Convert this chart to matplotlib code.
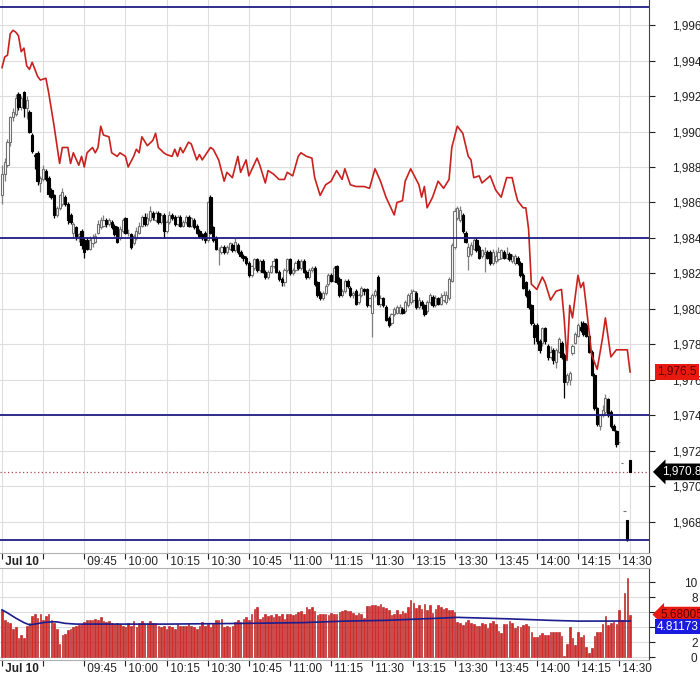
import numpy as np
import matplotlib
matplotlib.use("Agg")
import matplotlib.pyplot as plt
from matplotlib.ticker import FuncFormatter

plt.rcParams['font.family'] = ['Liberation Sans', 'DejaVu Sans']
plt.rcParams['font.size'] = 8.5

# 1-minute bars, Jul 10 session (09:15-11:30, 13:00-14:30)
opens = [
    1986.4, 1987.6, 1988.1, 1989.4, 1990.8, 1991.0, 1992.1, 1991.4, 1992.2, 1991.3,
    1991.1, 1989.8, 1988.7, 1988.8, 1987.1, 1987.3, 1987.8, 1987.4, 1986.7, 1986.4,
    1985.3, 1985.7, 1985.9, 1986.3, 1985.9, 1985.3, 1984.3, 1984.6, 1984.1, 1984.4,
    1983.9, 1983.9, 1983.4, 1983.7, 1983.8, 1984.3, 1984.6, 1984.7, 1985.0, 1984.8,
    1984.9, 1984.7, 1984.6, 1984.0, 1984.4, 1985.1, 1984.3, 1984.2, 1983.7, 1984.0,
    1984.3, 1984.7, 1985.2, 1984.8, 1985.0, 1985.4, 1985.0, 1985.4, 1984.9, 1985.3,
    1984.4, 1984.9, 1985.3, 1985.2, 1984.8, 1985.2, 1984.7, 1984.9, 1985.2, 1984.7,
    1985.0, 1984.7, 1984.4, 1984.2, 1984.3, 1983.9, 1986.3, 1984.6, 1984.0, 1983.3,
    1983.2, 1983.5, 1983.2, 1983.4, 1983.6, 1983.3, 1983.6, 1983.2, 1983.0, 1982.9,
    1982.6, 1981.9, 1982.3, 1982.8, 1982.2, 1982.7, 1982.1, 1981.8, 1982.1, 1982.4,
    1982.8, 1982.1, 1981.7, 1981.5, 1982.2, 1982.8, 1982.0, 1982.2, 1982.7, 1982.3,
    1982.7, 1982.1, 1981.8, 1982.2, 1982.3, 1981.5, 1980.9, 1980.6, 1980.9, 1981.4,
    1981.9, 1981.6, 1982.4, 1981.7, 1980.8, 1981.0, 1981.6, 1981.2, 1980.8, 1981.0,
    1980.4, 1980.8, 1981.1, 1981.1, 1980.2, 1979.8, 1980.8, 1981.8, 1980.3, 1980.6,
    1980.1, 1979.5, 1979.2, 1979.7, 1979.8, 1979.8, 1980.0, 1979.9, 1980.2, 1980.4,
    1980.5, 1980.9, 1980.1, 1980.4, 1980.2, 1979.9, 1980.4, 1980.7, 1980.2, 1980.6,
    1980.3, 1980.5, 1980.4, 1980.6, 1981.6, 1983.5, 1985.1, 1985.0, 1985.3, 1984.3,
    1983.0, 1983.1, 1983.4, 1983.9, 1983.5, 1983.0, 1983.1, 1983.2, 1983.2, 1982.6,
    1982.7, 1982.8, 1982.9, 1983.2, 1982.9, 1983.1, 1982.7, 1982.6, 1982.9, 1982.6,
    1981.9, 1981.5, 1981.0, 1980.2, 1979.1, 1979.1, 1978.2, 1978.1, 1978.9, 1977.9,
    1977.3, 1977.7, 1977.0, 1977.6, 1978.1, 1977.4, 1975.9, 1976.0, 1977.5, 1978.1,
    1978.5, 1979.0, 1979.2, 1979.1, 1978.5, 1977.6, 1976.3, 1974.4, 1973.4, 1974.0,
    1974.2, 1974.9, 1974.2, 1973.4, 1973.1, 1972.5, 1971.3, 1968.6, 1968.1, 1971.5,
]
closes = [
    1987.6, 1988.3, 1989.4, 1990.8, 1991.1, 1991.9, 1991.4, 1991.9, 1991.3, 1991.8,
    1990.0, 1988.9, 1988.6, 1987.2, 1987.4, 1987.9, 1987.3, 1986.5, 1986.3, 1985.3,
    1985.7, 1986.4, 1986.6, 1985.9, 1985.0, 1984.9, 1984.8, 1984.1, 1984.2, 1983.6,
    1983.2, 1983.4, 1983.9, 1984.0, 1984.1, 1984.8, 1985.0, 1985.0, 1984.8, 1985.0,
    1984.6, 1984.2, 1983.8, 1984.5, 1985.0, 1984.3, 1984.3, 1983.5, 1984.1, 1984.4,
    1984.7, 1985.2, 1984.8, 1985.1, 1985.5, 1985.2, 1985.4, 1984.9, 1985.3, 1984.4,
    1984.9, 1985.3, 1985.1, 1984.8, 1985.2, 1984.7, 1984.9, 1985.2, 1984.7, 1985.1,
    1984.6, 1984.3, 1984.1, 1984.0, 1983.9, 1986.0, 1984.3, 1983.9, 1983.4, 1983.3,
    1983.5, 1983.2, 1983.5, 1983.7, 1983.3, 1983.8, 1983.2, 1983.0, 1982.9, 1982.6,
    1981.9, 1982.4, 1982.8, 1982.2, 1982.7, 1982.1, 1981.8, 1982.1, 1982.4, 1982.7,
    1982.1, 1981.7, 1981.5, 1982.2, 1982.8, 1982.0, 1982.2, 1982.6, 1982.3, 1982.7,
    1982.1, 1981.8, 1982.2, 1982.3, 1981.4, 1980.8, 1980.6, 1980.9, 1981.3, 1981.9,
    1981.6, 1982.3, 1981.5, 1980.8, 1981.0, 1981.6, 1981.3, 1980.8, 1980.9, 1980.3,
    1980.8, 1981.2, 1981.0, 1980.2, 1980.6, 1980.8, 1981.0, 1980.3, 1980.6, 1980.2,
    1979.4, 1979.1, 1979.7, 1980.0, 1980.1, 1980.1, 1979.8, 1980.4, 1980.8, 1980.9,
    1981.0, 1980.1, 1980.5, 1980.2, 1979.7, 1980.4, 1980.8, 1980.2, 1980.6, 1980.3,
    1980.7, 1980.8, 1980.8, 1981.7, 1983.6, 1985.5, 1985.7, 1985.6, 1984.4, 1983.8,
    1983.5, 1983.6, 1983.9, 1983.3, 1982.9, 1983.3, 1983.2, 1982.9, 1982.6, 1983.2,
    1983.0, 1983.2, 1983.3, 1982.9, 1983.1, 1982.8, 1983.0, 1983.0, 1982.6, 1981.9,
    1981.2, 1980.8, 1980.1, 1979.2, 1978.4, 1978.2, 1977.7, 1978.9, 1978.2, 1977.3,
    1977.6, 1977.1, 1977.7, 1978.3, 1977.3, 1975.9, 1976.3, 1976.4, 1977.9, 1978.6,
    1979.1, 1978.8, 1978.6, 1978.5, 1977.6, 1976.3, 1974.4, 1973.5, 1974.0, 1974.3,
    1975.0, 1974.0, 1973.4, 1973.2, 1972.4, 1972.5, 1971.3, 1968.6, 1967.0, 1970.82,
]
highs = [
    1988.1, 1988.5, 1989.6, 1990.9, 1991.3, 1992.1, 1992.2, 1992.0, 1992.3, 1992.0,
    1991.2, 1989.9, 1988.8, 1988.9, 1987.5, 1988.1, 1987.9, 1987.5, 1986.8, 1986.5,
    1985.8, 1986.5, 1986.8, 1986.4, 1986.0, 1985.4, 1984.9, 1984.7, 1984.3, 1984.5,
    1984.0, 1984.0, 1984.1, 1984.2, 1984.3, 1985.0, 1985.2, 1985.3, 1985.1, 1985.1,
    1985.0, 1984.8, 1984.7, 1984.7, 1985.1, 1985.2, 1984.5, 1984.3, 1984.2, 1984.6,
    1984.9, 1985.3, 1985.4, 1985.4, 1985.8, 1985.5, 1985.5, 1985.5, 1985.4, 1985.4,
    1985.0, 1985.5, 1985.4, 1985.3, 1985.3, 1985.3, 1985.0, 1985.3, 1985.3, 1985.2,
    1985.1, 1984.8, 1984.5, 1984.3, 1984.4, 1986.1, 1986.4, 1984.7, 1984.1, 1983.5,
    1983.6, 1983.6, 1983.6, 1983.8, 1983.7, 1984.0, 1983.7, 1983.3, 1983.1, 1983.0,
    1982.7, 1982.5, 1982.9, 1982.9, 1982.8, 1982.8, 1982.2, 1982.2, 1982.5, 1982.9,
    1982.9, 1982.2, 1981.8, 1982.3, 1982.9, 1982.9, 1982.3, 1982.7, 1982.8, 1982.8,
    1982.8, 1982.2, 1982.3, 1982.4, 1982.4, 1981.6, 1981.0, 1981.0, 1981.4, 1982.0,
    1982.0, 1982.4, 1982.5, 1981.8, 1981.1, 1981.7, 1981.7, 1981.3, 1981.0, 1981.1,
    1980.9, 1981.3, 1981.2, 1981.2, 1980.7, 1980.9, 1981.1, 1981.9, 1980.8, 1980.7,
    1980.2, 1979.6, 1979.8, 1980.1, 1980.2, 1980.3, 1980.1, 1980.5, 1980.9, 1981.1,
    1981.1, 1981.0, 1980.7, 1980.5, 1980.3, 1980.5, 1980.9, 1980.8, 1980.8, 1980.7,
    1980.9, 1981.0, 1981.0, 1981.8, 1983.7, 1985.7, 1985.8, 1985.8, 1985.4, 1984.4,
    1983.7, 1983.8, 1984.0, 1984.0, 1983.6, 1983.4, 1983.5, 1983.3, 1983.3, 1983.4,
    1983.3, 1983.5, 1983.4, 1983.3, 1983.5, 1983.2, 1983.1, 1983.1, 1983.0, 1982.7,
    1982.0, 1981.6, 1981.1, 1980.3, 1979.2, 1979.2, 1978.3, 1979.0, 1979.0, 1978.0,
    1977.9, 1977.8, 1977.8, 1978.4, 1978.2, 1977.5, 1976.4, 1976.5, 1978.0, 1978.7,
    1979.2, 1979.3, 1979.3, 1979.2, 1978.6, 1977.7, 1976.4, 1974.5, 1974.1, 1974.6,
    1975.2, 1975.0, 1974.3, 1973.5, 1973.2, 1972.5, 1971.3, 1968.6, 1968.1, 1971.5,
]
lows = [
    1985.9, 1987.2, 1988.0, 1989.2, 1990.6, 1990.9, 1991.2, 1991.2, 1990.8, 1990.7,
    1989.9, 1988.8, 1987.9, 1987.0, 1986.6, 1987.2, 1987.2, 1986.3, 1986.2, 1985.1,
    1985.2, 1985.6, 1985.8, 1985.8, 1984.8, 1984.8, 1984.0, 1983.9, 1983.8, 1983.4,
    1982.9, 1983.3, 1983.3, 1983.5, 1983.7, 1984.2, 1984.5, 1984.6, 1984.6, 1984.7,
    1984.5, 1984.1, 1983.7, 1983.9, 1984.3, 1984.2, 1984.1, 1983.4, 1983.6, 1983.9,
    1984.2, 1984.6, 1984.7, 1984.7, 1984.9, 1985.0, 1984.9, 1984.8, 1984.8, 1984.0,
    1984.3, 1984.8, 1985.0, 1984.7, 1984.7, 1984.6, 1984.6, 1984.8, 1984.6, 1984.6,
    1984.5, 1984.2, 1984.0, 1983.9, 1983.7, 1983.8, 1984.2, 1983.8, 1983.3, 1982.5,
    1983.1, 1983.1, 1983.1, 1983.3, 1983.2, 1983.2, 1983.1, 1982.9, 1982.7, 1982.5,
    1981.8, 1981.8, 1982.2, 1982.1, 1982.1, 1982.0, 1981.7, 1981.7, 1982.0, 1982.3,
    1982.0, 1981.6, 1981.3, 1981.3, 1982.1, 1981.9, 1981.9, 1982.1, 1982.2, 1982.2,
    1982.0, 1981.7, 1981.7, 1982.1, 1981.3, 1980.7, 1980.5, 1980.5, 1980.8, 1981.3,
    1981.5, 1981.5, 1981.4, 1980.7, 1980.7, 1980.9, 1981.2, 1980.7, 1980.6, 1980.2,
    1980.3, 1980.7, 1980.8, 1980.1, 1980.1, 1978.4, 1980.7, 1980.2, 1980.1, 1980.1,
    1979.3, 1979.0, 1979.1, 1979.6, 1979.7, 1979.7, 1979.7, 1979.8, 1980.1, 1980.3,
    1980.4, 1980.0, 1980.0, 1980.0, 1979.6, 1979.8, 1980.3, 1980.1, 1980.1, 1980.2,
    1980.2, 1980.4, 1980.3, 1980.5, 1981.5, 1983.4, 1985.0, 1984.9, 1984.3, 1983.7,
    1982.2, 1983.0, 1983.3, 1983.2, 1982.8, 1982.9, 1982.1, 1982.8, 1982.5, 1982.5,
    1982.6, 1982.7, 1982.8, 1982.8, 1982.8, 1982.7, 1982.6, 1982.5, 1982.5, 1981.8,
    1981.1, 1980.7, 1980.0, 1979.1, 1978.0, 1978.0, 1977.5, 1977.9, 1978.0, 1977.1,
    1977.2, 1976.9, 1976.7, 1977.5, 1977.2, 1975.0, 1975.7, 1975.7, 1977.4, 1978.0,
    1978.4, 1978.7, 1978.5, 1978.4, 1977.5, 1976.2, 1974.3, 1973.4, 1973.2, 1973.9,
    1974.1, 1973.9, 1973.3, 1973.1, 1972.2, 1972.5, 1971.3, 1968.6, 1966.9, 1970.8,
]
volumes = [
    6.3, 5.0, 4.7, 4.6, 3.8, 4.0, 2.5, 2.9, 2.6, 4.2,
    4.6, 5.5, 5.8, 5.2, 5.7, 4.9, 5.5, 5.7, 4.9, 4.5,
    3.8, 1.8, 2.9, 3.1, 3.6, 3.8, 4.0, 4.2, 4.3, 4.4,
    4.7, 5.0, 5.0, 4.9, 5.1, 4.9, 5.4, 4.8, 4.7, 4.8,
    4.6, 4.4, 4.6, 4.4, 4.2, 4.0, 4.5, 4.2, 4.8, 4.0,
    4.5, 4.8, 4.6, 4.6, 4.8, 4.6, 4.6, 4.2, 4.0, 4.2,
    3.8, 4.2, 4.0, 3.8, 4.4, 4.2, 4.2, 4.2, 4.4, 4.2,
    4.0, 3.8, 4.2, 4.7, 4.2, 4.4, 4.0, 4.4, 4.9, 4.9,
    5.1, 4.0, 4.2, 4.0, 4.2, 4.7, 4.9, 4.7, 5.1, 5.4,
    5.0, 5.8, 6.4, 6.7, 5.1, 5.3, 5.8, 5.5, 5.6, 5.3,
    5.8, 5.5, 5.8, 5.1, 5.8, 5.8, 5.6, 5.8, 6.0, 6.2,
    5.8, 6.7, 6.4, 6.7, 6.2, 5.6, 5.8, 5.8, 5.8, 5.6,
    5.9, 5.8, 5.8, 6.0, 6.2, 6.3, 6.2, 6.1, 5.9, 5.6,
    5.9, 5.7, 5.2, 6.8, 6.8, 6.9, 7.0, 6.8, 7.1, 6.7,
    6.5, 6.3, 5.6, 5.8, 6.3, 5.8, 6.2, 5.9, 6.7, 7.6,
    7.2, 6.5, 6.9, 6.4, 7.1, 6.3, 7.0, 5.9, 6.4, 6.9,
    6.7, 6.4, 6.6, 6.3, 6.3, 6.0, 4.7, 4.5, 4.3, 4.7,
    4.9, 4.6, 4.4, 4.2, 4.2, 4.5, 4.4, 3.9, 4.6, 4.8,
    4.4, 3.5, 3.2, 4.4, 4.4, 4.8, 4.5, 3.9, 4.2, 4.0,
    4.3, 4.4, 4.2, 3.3, 2.7, 2.7, 3.0, 3.2, 2.9, 2.9,
    3.3, 3.4, 3.3, 3.4, 2.8, 0.2, 1.8, 4.0, 2.5, 1.6,
    3.4, 2.7, 3.0, 1.4, 0.5, 1.2, 2.8, 3.4, 3.3, 4.4,
    5.5, 4.3, 4.5, 4.7, 4.4, 6.3, 5.0, 8.6, 10.6, 5.68005,
]

# comparison series (red line), sampled at bar indices
red_idx = [0, 1, 2, 3, 4, 5, 6, 7, 8, 9, 10, 11, 13, 14, 16, 17, 19, 21, 22, 24,
           25, 26, 28, 29, 30, 31, 33, 34, 35, 36, 37, 39, 40, 42, 43, 45, 46, 48, 49, 50,
           51, 53, 55, 56, 57, 59, 60, 62, 63, 64, 65, 66, 67, 68, 69, 71, 72, 73, 76, 77,
           79, 81, 82, 84, 85, 86, 87, 89, 90, 93, 94, 96, 97, 99, 101, 103, 104, 106, 108, 109,
           111, 113, 114, 116, 118, 120, 122, 124, 125, 127, 129, 132, 134, 136, 138, 140, 143, 144, 146, 147,
           149, 152, 153, 154, 155, 157, 159, 161, 163, 164, 166, 168, 170, 171, 172, 174, 175, 178, 179, 180,
           182, 184, 186, 187, 188, 190, 191, 192, 193, 195, 197, 198, 200, 202, 204, 205, 206, 207, 208, 210,
           211, 212, 213, 215, 217, 219, 220, 222, 224, 228, 229]
red_vals = [1993.6, 1994.2, 1994.3, 1995.5, 1995.7, 1995.6, 1995.4, 1994.5, 1994.7, 1993.7,
            1993.5, 1993.9, 1993.1, 1992.9, 1993.0, 1992.2, 1990.3, 1988.2, 1989.1, 1989.1,
            1988.2, 1988.8, 1988.1, 1988.6, 1988.0, 1988.8, 1989.1, 1988.8, 1989.1, 1990.3,
            1989.8, 1989.7, 1988.8, 1988.6, 1988.8, 1988.6, 1988.0, 1988.6, 1989.0, 1988.8,
            1989.7, 1989.2, 1989.5, 1989.9, 1989.1, 1988.8, 1988.7, 1988.6, 1989.0, 1988.6,
            1989.1, 1988.8, 1989.1, 1989.4, 1989.3, 1988.4, 1988.7, 1988.4, 1989.1, 1989.0,
            1988.4, 1987.2, 1987.7, 1987.4, 1988.0, 1988.6, 1987.7, 1988.4, 1987.5, 1988.5,
            1988.1, 1987.1, 1987.8, 1987.6, 1987.3, 1987.3, 1987.7, 1987.5, 1988.6, 1988.8,
            1988.6, 1988.5, 1987.4, 1986.4, 1987.0, 1987.2, 1987.8, 1987.3, 1987.9, 1987.0,
            1986.9, 1986.9, 1986.8, 1987.9, 1987.2, 1986.3, 1985.3, 1986.0, 1986.1, 1987.2,
            1987.9, 1987.0, 1986.3, 1986.9, 1985.7, 1986.3, 1987.2, 1986.8, 1987.3, 1989.1,
            1990.3, 1989.9, 1988.6, 1988.4, 1987.4, 1987.5, 1987.1, 1987.5, 1987.1, 1986.7,
            1986.3, 1987.4, 1987.4, 1986.7, 1986.1, 1985.7, 1985.7, 1984.5, 1981.4, 1981.1,
            1981.8, 1981.5, 1980.5, 1981.0, 1981.1, 1979.4, 1977.1, 1980.2, 1979.5, 1981.9,
            1981.2, 1981.5, 1980.2, 1977.4, 1976.6, 1978.4, 1979.5, 1977.3, 1977.7, 1977.7,
            1976.45]

# volume average line (blue)
ma_idx = [0, 2, 5, 8, 10, 12, 15, 18, 20, 23, 27, 60, 90, 110, 125, 140, 160, 166, 185, 200, 210, 229]
ma_vals = [6.3, 5.9, 5.2, 4.6, 4.3, 4.4, 4.6, 4.7, 4.7, 4.5, 4.4, 4.4, 4.5, 4.6, 4.8, 4.9,
           5.2, 5.3, 5.1, 4.9, 4.8, 4.81173]

levels = [1997, 1984, 1974, 1967]
tick_idx = [0, 15, 30, 45, 60, 75, 90, 105, 120, 135, 150, 165, 180, 195, 210, 225]
tick_labels = ['Jul 10', '', '09:45', '10:00', '10:15', '10:30', '10:45', '11:00', '11:15',
               '11:30', '13:15', '13:30', '13:45', '14:00', '14:15', '14:30']

o = np.array(opens)
c = np.array(closes)
h = np.array(highs)
l = np.array(lows)
x = np.arange(len(c))
up = c >= o

fig = plt.figure(figsize=(7, 6.75), dpi=100)
ax = fig.add_axes([0, 1 - 553 / 675, 649 / 700, 553 / 675])
axv = fig.add_axes([0, 15 / 675, 649 / 700, 92 / 675])

grid_col = '#dedede'

# ---- price panel ----
ax.vlines(x[up], l[up], h[up], color='#808080', lw=0.9, zorder=3)
ax.vlines(x[~up], l[~up], h[~up], color='black', lw=0.9, zorder=3)
ax.bar(x[up], (c - o)[up], bottom=o[up], width=0.8, facecolor='white',
       edgecolor='#707070', lw=0.8, zorder=4)
ax.bar(x[~up], (c - o)[~up], bottom=o[~up], width=0.85, color='black',
       edgecolor='black', lw=0.8, zorder=4)

ax.plot(red_idx, red_vals, color='#c8211e', lw=1.2, zorder=5)

for lv in levels:
    ax.axhline(lv, color='#1f1f85', lw=1.3, zorder=6)
ax.axhline(closes[-1], color='#b04848', lw=0.9, ls=(0, (1, 2)), zorder=2)
ax.axvline(x[-1], color=grid_col, lw=0.8, zorder=0)

ax.set_xlim(-0.73, 235.9)
ax.set_ylim(1966.25, 1997.41)
ax.set_yticks(np.arange(1968, 1997, 2))
ax.yaxis.set_major_formatter(FuncFormatter(lambda v, p: f'{v:,.0f}'))
ax.yaxis.tick_right()
ax.tick_params(axis='y', length=4, pad=12.5, labelsize=8.5, colors='#222222')

ax.set_xticks(tick_idx)
ax.set_xticklabels([' ' + t if t else '' for t in tick_labels])
ax.tick_params(axis='x', length=4, pad=-1.5, labelsize=8.5, colors='#222222')
for lab in ax.get_xticklabels():
    lab.set_horizontalalignment('left')
ax.get_xticklabels()[0].set_fontweight('bold')

ax.grid(True, color=grid_col, lw=0.8)
ax.set_axisbelow(True)
ax.spines['left'].set_visible(False)
ax.spines['top'].set_visible(False)
ax.spines['bottom'].set_color('#b0b0b0')
ax.spines['right'].set_color('#444444')

ytr = ax.get_yaxis_transform()
ax.text(1.0125, 1976.45, '1,976.5', transform=ytr, ha='left', va='center',
        color='#5a0000', fontsize=8.5, clip_on=False, zorder=10,
        bbox=dict(boxstyle='square,pad=0.2', fc='#e81a10', ec='none'))
ax.text(1.02, closes[-1], '1,970.82', transform=ytr, ha='left', va='center',
        color='white', fontsize=8.5, clip_on=False, zorder=10,
        bbox=dict(boxstyle='larrow,pad=0.2', fc='black', ec='none'))

# ---- volume panel ----
axv.bar(x, volumes, width=0.6, color='#d42a2a', edgecolor='#b01515', lw=0.4, zorder=3)
axv.plot(ma_idx, ma_vals, color='#1c1c8c', lw=1.2, zorder=4)

axv.set_xlim(-0.73, 235.9)
axv.set_ylim(-0.4, 11.9)
axv.set_yticks([0, 2, 4, 6, 8, 10])
axv.yaxis.tick_right()
axv.tick_params(axis='y', length=4, pad=31, labelsize=8.5, colors='#222222')
for lab in axv.get_yticklabels():
    lab.set_horizontalalignment('right')

axv.set_xticks(tick_idx)
axv.set_xticklabels([' ' + t if t else '' for t in tick_labels])
axv.tick_params(axis='x', length=4, pad=-1.5, labelsize=8.5, colors='#222222')
for lab in axv.get_xticklabels():
    lab.set_horizontalalignment('left')
axv.get_xticklabels()[0].set_fontweight('bold')

axv.grid(True, color=grid_col, lw=0.8)
axv.set_axisbelow(True)
axv.spines['left'].set_visible(False)
axv.spines['top'].set_color('#b0b0b0')
axv.spines['bottom'].set_color('#b0b0b0')
axv.spines['right'].set_color('#444444')

vtr = axv.get_yaxis_transform()
axv.text(1.018, volumes[-1], '5.68005', transform=vtr, ha='left', va='center',
         color='#5a0000', fontsize=8.5, clip_on=False, zorder=10,
         bbox=dict(boxstyle='larrow,pad=0.15', fc='#e81a10', ec='none'))
axv.text(1.012, 4.05, '4.81173', transform=vtr, ha='left', va='center',
         color='white', fontsize=8.5, clip_on=False, zorder=10,
         bbox=dict(boxstyle='square,pad=0.15', fc='#1a1ae0', ec='none'))

fig.savefig('out.png', dpi=100)
